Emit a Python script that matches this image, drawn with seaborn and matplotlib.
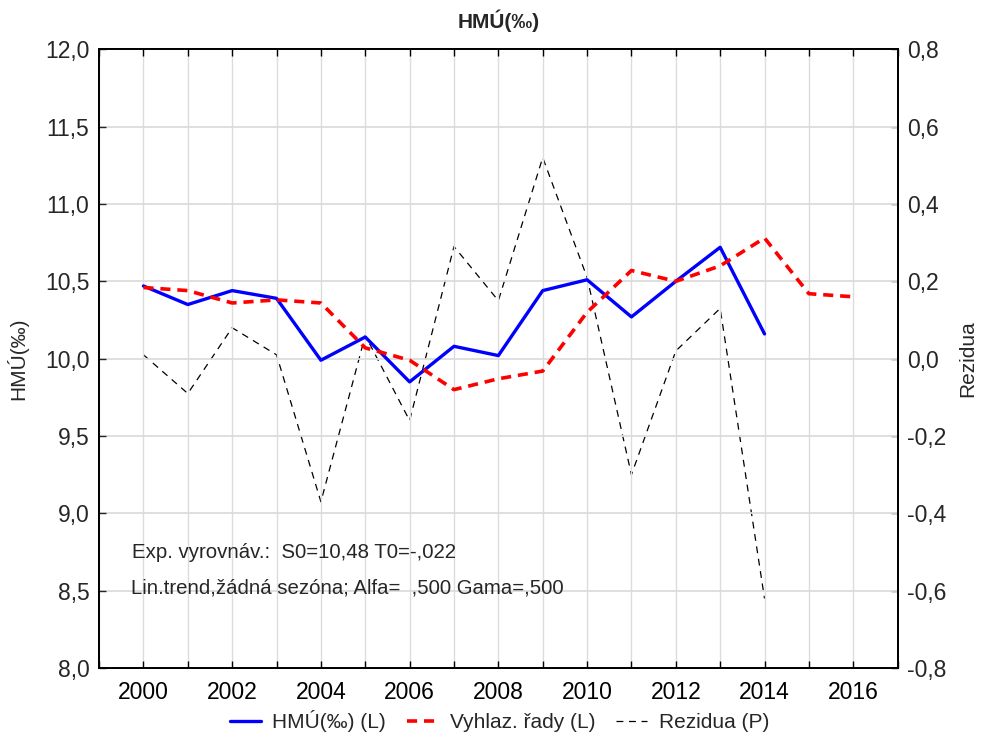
import matplotlib
matplotlib.use("Agg")
import matplotlib.pyplot as plt
from matplotlib.ticker import FuncFormatter, MultipleLocator
import seaborn as sns
import pandas as pd

# Series
years_obs = list(range(2000, 2015))
years_smooth = list(range(2000, 2017))
hmu = [10.47, 10.35, 10.44, 10.39, 9.99, 10.14, 9.85, 10.08, 10.02, 10.44,
       10.51, 10.27, 10.50, 10.72, 10.16]
smoothed = [10.46, 10.44, 10.36, 10.38, 10.36, 10.07, 9.99, 9.80, 9.87, 9.92,
            10.30, 10.57, 10.50, 10.60, 10.78, 10.42, 10.40]
residuals = [0.01, -0.09, 0.08, 0.01, -0.37, 0.06, -0.16, 0.29, 0.15, 0.52,
             0.21, -0.30, 0.02, 0.13, -0.62]

title = "HMÚ(‰)"
left_label = "HMÚ(‰)"
right_label = "Rezidua"
legend_labels = ["HMÚ(‰) (L)", "Vyhlaz. řady (L)", "Rezidua (P)"]
note_lines = ["Exp. vyrovnáv.:  S0=10,48 T0=-,022",
              "Lin.trend,žádná sezóna; Alfa=  ,500 Gama=,500"]

sns.set_theme(style="white")
plt.rcParams["font.family"] = ["Liberation Sans", "DejaVu Sans"]

df_obs = pd.DataFrame({"rok": years_obs, "hmu": hmu, "rez": residuals})
df_sm = pd.DataFrame({"rok": years_smooth, "vyhl": smoothed})

fig = plt.figure(figsize=(9.81, 7.35), dpi=100)
ax = fig.add_axes([0.101, 0.091, 0.814, 0.842])
ax2 = ax.twinx()

comma = FuncFormatter(lambda v, p: f"{v:.1f}".replace(".", ","))

# Residuals on the right axis, behind the level series
sns.lineplot(data=df_obs, x="rok", y="rez", ax=ax2, color="black", lw=0.9,
             linestyle=(0, (5.5, 4.5)), label=legend_labels[2], legend=False)
sns.lineplot(data=df_obs, x="rok", y="hmu", ax=ax, color="#0000ff", lw=2.4,
             label=legend_labels[0], legend=False)
sns.lineplot(data=df_sm, x="rok", y="vyhl", ax=ax, color="#ff0000", lw=2.6,
             linestyle=(0, (2.8, 1.9)), label=legend_labels[1], legend=False)

ax.set_zorder(ax2.get_zorder() + 1)
ax.patch.set_visible(False)

ax.set_xlim(1999, 2017)
ax.set_ylim(8.0, 12.0)
ax2.set_ylim(-0.8, 0.8)

ax.xaxis.set_major_locator(MultipleLocator(2))
ax.xaxis.set_minor_locator(MultipleLocator(1))
ax.yaxis.set_major_locator(MultipleLocator(0.5))
ax2.yaxis.set_major_locator(MultipleLocator(0.2))
ax.yaxis.set_major_formatter(comma)
ax2.yaxis.set_major_formatter(comma)

ax.grid(True, which="both", axis="x", color="#dcdcdc", lw=1.0)
ax.grid(True, which="major", axis="y", color="#dcdcdc", lw=1.3)
ax.set_axisbelow(True)
ax2.grid(False)

for a in (ax, ax2):
    for s in a.spines.values():
        s.set_color("black")
        s.set_linewidth(1.4)

ax.tick_params(axis="x", which="both", direction="in", top=True, bottom=True,
               length=5, width=1, labelsize=16.5, pad=9, colors="black")
ax.tick_params(axis="y", direction="in", left=True, length=5, width=1,
               labelsize=16.5, pad=7)
ax2.tick_params(axis="y", direction="in", right=True, length=5, width=1,
                labelsize=16.5, pad=7)

ax.set_xlabel("")
ax.set_ylabel(left_label, fontsize=15, labelpad=12)
ax2.set_ylabel(right_label, fontsize=15, labelpad=8)
ax.set_title(title, fontsize=15, fontweight="bold", pad=15)

ax.text(1999.75, 8.75, note_lines[0], fontsize=14.7, va="center", ha="left")
ax.text(1999.71, 8.52, note_lines[1], fontsize=14.7, va="center", ha="left")

handles = ax.get_lines()[:2] + ax2.get_lines()[:1]
by_label = {h.get_label(): h for h in handles}
fig.legend([by_label[l] for l in legend_labels], legend_labels, loc="lower center",
           bbox_to_anchor=(0.509, -0.022), ncol=3, frameon=False, fontsize=15,
           handlelength=1.5, columnspacing=1.0, handletextpad=0.55)

fig.savefig("out.png", dpi=100)
